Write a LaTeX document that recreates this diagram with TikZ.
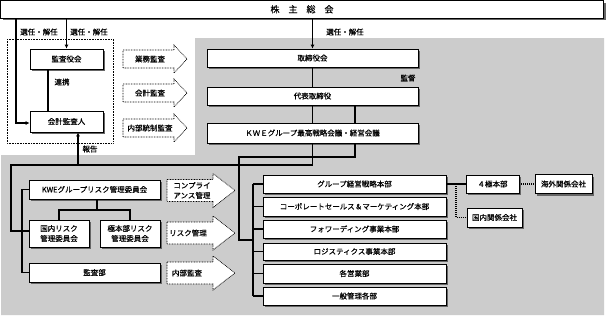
\documentclass[tikz,border=0pt]{standalone}
\usepackage{fontspec}
\setmainfont{Noto Sans CJK JP}[FakeBold=0.4]
\usetikzlibrary{arrows.meta,shadows}
\begin{document}
\begin{tikzpicture}[x=1pt,y=-1pt,
  box/.style={draw, line width=0.7pt, fill=white, inner sep=0pt,
    drop shadow={shadow xshift=2pt,shadow yshift=-2pt,fill=black!60,opacity=1},
    font=\fontsize{7.5}{10}\selectfont, align=center},
  conn/.style={line width=1.1pt},
  arr/.style={conn,-{Latex[length=4pt,width=4pt]}},
  dotl/.style={line width=1.2pt, dash pattern=on 1pt off 1pt},
  blockarrow/.style={draw, fill=white, line width=0.7pt, dash pattern=on 0.8pt off 0.8pt},
  lbl/.style={font=\fontsize{7.5}{10}\selectfont, inner sep=0pt, align=center},
]
\useasboundingbox (0,0) rectangle (608,317);
\fill[white] (0,0) rectangle (608,317);
\fill[black!20] (195,38) -- (604,38) -- (604,315) -- (1,315) -- (1,155) -- (195,155) -- cycle;

% top
\node[box, minimum width=603pt, minimum height=17.5pt, font=\fontsize{9}{10}\selectfont] (shareholders) at (302,9.3) {株　主　総　会};

% audit area
\draw[line width=0.7pt, dash pattern=on 0.8pt off 0.8pt] (7,39) rectangle (113,143);
\node[box, minimum width=73pt, minimum height=20pt] (kansayaku) at (66.5,59) {監査役会};
\node[box, minimum width=73pt, minimum height=21pt] (kaikei) at (66.5,121.5) {会計監査人};

% board column
\node[box, minimum width=211pt, minimum height=18pt] (board) at (312.5,58) {取締役会};
\node[box, minimum width=211pt, minimum height=18pt] (rep) at (312.5,96) {代表取締役};
\node[box, minimum width=211pt, minimum height=20pt] (kwe) at (312.5,133) {ＫＷＥグループ最高戦略会議・経営会議};

% risk area
\node[box, minimum width=131pt, minimum height=19pt] (riskcom) at (94.5,189.5) {KWEグループリスク管理委員会};
\node[box, minimum width=60pt, minimum height=27pt] (kokunai) at (59,233.5) {国内リスク\\管理委員会};
\node[box, minimum width=60pt, minimum height=27pt] (kyoku) at (130,233.5) {極本部リスク\\管理委員会};
\node[box, minimum width=131pt, minimum height=19pt] (kansabu) at (94.5,272.5) {監査部};

% divisions
\node[box, minimum width=183pt, minimum height=18pt] (g1) at (354.5,184) {グループ経営戦略本部};
\node[box, minimum width=183pt, minimum height=19pt] (g2) at (354.5,206.5) {コーポレートセールス＆マーケティング本部};
\node[box, minimum width=183pt, minimum height=18pt] (g3) at (354.5,229) {フォワーディング事業本部};
\node[box, minimum width=183pt, minimum height=17pt] (g4) at (354.5,251.5) {ロジスティクス事業本部};
\node[box, minimum width=183pt, minimum height=19pt] (g5) at (354.5,273.5) {各営業部};
\node[box, minimum width=183pt, minimum height=18pt] (g6) at (354.5,296) {一般管理各部};

\node[box, minimum width=53pt, minimum height=18pt] (yonkyoku) at (492.5,184) {４極本部};
\node[box, minimum width=57pt, minimum height=19pt] (kaigai) at (563.5,184) {海外関係会社};
\node[box, minimum width=55pt, minimum height=19pt] (kokunaik) at (494.5,217.5) {国内関係会社};

% block arrows (upper)
\foreach \cy/\t/\n in {59/業務監査/ba1, 93/会計監査/ba2, 128/内部統制監査/ba3}{
  \draw[blockarrow] (123,\cy-9) -- (174,\cy-9) -- (174,\cy-14) -- (187,\cy) -- (174,\cy+14) -- (174,\cy+9) -- (123,\cy+9) -- cycle;
  \node[lbl] (\n) at (150,\cy) {\t};
}
% block arrows (lower)
\foreach \cy in {190.5, 233, 273}{
  \draw[blockarrow] (167,\cy-11) -- (213,\cy-11) -- (213,\cy-17) -- (235,\cy) -- (213,\cy+17) -- (213,\cy+11) -- (167,\cy+11) -- cycle;
}
\node[lbl, align=left] (ba4) at (192,190.5) {コンプライ\\アンス管理};
\node[lbl] (ba5) at (188,233) {リスク管理};
\node[lbl] (ba6) at (187,273) {内部監査};

% coordinates
\coordinate (lx) at (16,123);
\coordinate (rk) at (48,0);
\coordinate (j1) at (11,165);
\coordinate (j2) at (11,231);
\coordinate (rp) at (78,165);
\coordinate (rx) at (355,157);
\coordinate (bx) at (239,240);
\coordinate (brk) at (253,240);
\coordinate (rb) at (22,0);
\coordinate (rt) at (97,210);
\coordinate (dk) at (456,184);

% connectors
\draw[arr] (shareholders.south -| lx) |- (kaikei.west |- lx);
\draw[arr] (shareholders.south -| kansayaku.north) -- (kansayaku.north);
\draw[arr] (shareholders.south -| board.north) -- (board.north);
\draw[conn] (kansayaku.south -| rk) -- (kaikei.north -| rk);
\draw[conn] (board.south) -- (rep.north);
\draw[conn] (rep.south) -- (kwe.north);
\draw[conn] (kwe.south) |- (j1) -- (j2) -- (kokunai.west |- j2);
\draw[arr] (rp) -- (kaikei.south -| rp);
\draw[conn] (rep.south -| rx) -- (kwe.north -| rx);
\draw[conn] (kwe.south -| rx) -- (rx) -| (bx) -- (brk);
\draw[conn] (g1.west -| brk) -- (g6.west -| brk);
\foreach \g in {g1,g2,g3,g4,g5,g6}{ \draw[conn] (\g.west -| brk) -- (\g.west); }
\draw[conn] (riskcom.west) -- (riskcom.west -| rb) -- (kansabu.west -| rb) -- (kansabu.west);
\draw[conn] (riskcom.south -| rt) -- (rt);
\draw[conn] (kokunai.north) |- (kyoku.north |- rt) -- (kyoku.north);
\draw[conn] (g1.east) -- (yonkyoku.west);
\draw[dotl] (yonkyoku.east) -- (kaigai.west);
\draw[dotl] (dk) |- (kokunaik.west);

% labels
\node[lbl] (l1) at (39,32) {選任・解任};
\node[lbl] (l2) at (89,32) {選任・解任};
\node[lbl] (l3) at (345,32) {選任・解任};
\node[lbl] (l4) at (408,78) {監督};
\node[lbl] (l5) at (62,82) {連携};
\node[lbl] (l6) at (90,149) {報告};
\end{tikzpicture}
\end{document}
